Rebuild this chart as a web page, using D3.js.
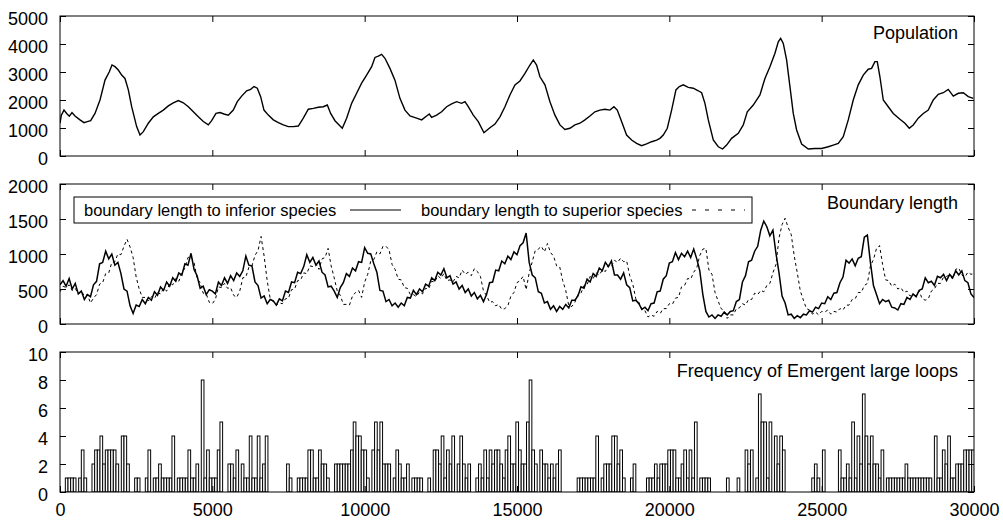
<!DOCTYPE html>
<html>
<head>
<meta charset="utf-8">
<script src="https://cdn.jsdelivr.net/npm/d3@7"></script>
<style>
  body { margin: 0; background: #fff; }
  svg text { font-family: "Liberation Sans", Arial, Helvetica, sans-serif; fill: #000; }
</style>
</head>
<body>
<div id="chart"></div>
<script>

// population as [time, population]
var population = [[0,1170],[44,1460],[131,1640],[219,1520],[306,1420],[394,1550],[492,1430],[656,1290],[788,1190],[897,1230],
  [1006,1260],[1149,1520],[1313,2000],[1477,2710],[1619,3010],[1707,3250],[1805,3190],[1914,3070],[2024,2890],[2133,2770],
  [2243,2360],[2352,1760],[2516,1050],[2626,750],[2735,870],[2899,1170],[3063,1400],[3227,1520],[3391,1640],[3555,1790],
  [3719,1900],[3883,1980],[4048,1900],[4212,1760],[4376,1580],[4540,1400],[4704,1230],[4868,1110],[4978,1260],[5120,1520],
  [5251,1550],[5382,1500],[5524,1460],[5688,1640],[5820,1940],[5962,2140],[6126,2330],[6257,2380],[6367,2480],[6476,2420],
  [6586,2120],[6695,1640],[6838,1460],[7002,1290],[7166,1190],[7330,1110],[7494,1050],[7658,1050],[7822,1070],[7986,1350],
  [8150,1670],[8315,1700],[8479,1740],[8643,1760],[8774,1820],[8883,1520],[9025,1260],[9266,990],[9408,1345],[9572,1880],
  [9736,2240],[9900,2600],[10064,2890],[10229,3190],[10338,3520],[10447,3570],[10557,3630],[10666,3490],[10830,3130],[10994,2710],
  [11158,2060],[11323,1640],[11487,1430],[11705,1350],[11870,1290],[12034,1430],[12121,1500],[12198,1380],[12362,1460],[12526,1580],
  [12690,1760],[12854,1860],[13018,1940],[13182,1880],[13292,1940],[13401,1760],[13565,1460],[13729,1230],[13915,830],[14090,990],
  [14276,1140],[14440,1400],[14604,1760],[14768,2180],[14933,2540],[15097,2680],[15261,2950],[15425,3250],[15534,3430],[15643,3250],
  [15753,2830],[15917,2540],[16081,1940],[16245,1460],[16409,1110],[16573,950],[16737,990],[16901,1110],[17065,1170],[17230,1290],
  [17394,1430],[17558,1580],[17722,1640],[17886,1670],[18050,1640],[18182,1760],[18291,1640],[18433,1230],[18597,750],[18762,570],
  [18926,450],[19090,370],[19254,430],[19418,510],[19582,570],[19692,630],[19801,750],[19933,990],[20075,1640],[20217,2360],
  [20327,2480],[20458,2540],[20622,2450],[20786,2420],[20950,2330],[21060,2260],[21169,1880],[21279,1290],[21443,570],[21607,330],
  [21749,250],[21880,390],[22044,630],[22263,810],[22427,1110],[22559,1580],[22755,1820],[22974,2180],[23138,2770],[23302,3190],
  [23467,3670],[23576,4080],[23653,4200],[23740,4020],[23849,3430],[23959,2480],[24068,1520],[24178,930],[24342,430],[24560,250],
  [24779,270],[24998,270],[25217,330],[25381,390],[25545,450],[25709,690],[25873,1290],[26037,2000],[26201,2540],[26365,2890],
  [26529,3100],[26638,3130],[26748,3370],[26825,3370],[26912,2830],[27022,2000],[27186,1760],[27350,1520],[27569,1310],[27733,1170],
  [27875,990],[28006,1110],[28170,1350],[28335,1520],[28499,1640],[28663,2000],[28827,2200],[28991,2260],[29155,2380],[29320,2140],
  [29484,2240],[29648,2260],[29812,2120],[29976,2060]];

// boundary lengths, one value every 100 time steps
var boundaryStep = 100;
var inferior = [
  560,620,540,650,500,580,430,470,350,420,
  390,560,610,860,880,1040,930,1000,840,880,
  720,500,470,260,150,270,250,350,290,380,
  340,460,410,530,480,600,540,660,610,730,
  700,860,840,1010,780,690,510,540,420,490,
  470,430,600,550,660,580,690,620,730,680,
  760,970,840,830,600,550,370,400,290,350,
  330,270,360,330,470,450,600,590,740,720,
  820,990,880,950,840,900,740,700,530,540,
  470,380,520,590,720,680,800,760,890,880,
  1090,1010,1000,860,740,480,470,320,350,260,
  300,240,300,260,380,370,480,420,500,460,
  570,540,660,620,740,700,790,660,690,570,
  600,500,550,450,500,400,450,360,410,320,
  420,590,600,770,760,900,860,970,920,1030,
  990,1120,1160,1300,880,700,660,460,440,300,
  320,210,260,180,250,210,280,230,340,340,
  400,530,510,640,600,720,680,800,760,880,
  820,900,700,700,640,730,560,520,330,340,
  290,210,240,190,290,300,460,470,640,690,
  870,890,1020,920,1010,960,1040,950,1070,930,
  760,420,180,100,130,80,130,110,170,130,
  180,190,320,350,600,690,890,910,1040,1110,
  1340,1470,1390,1260,1340,1010,730,400,300,130,
  140,80,120,90,140,130,190,170,240,220,
  300,290,390,350,440,450,590,670,910,870,
  930,830,940,960,1240,1270,880,550,420,290,
  350,320,340,240,230,200,290,280,380,350,
  430,390,480,500,660,590,610,550,680,660,
  710,620,710,660,760,700,760,620,590,430,
  380];

var superior = [
  460,540,520,560,480,510,430,470,400,420,
  300,370,420,570,590,720,730,880,890,1000,
  990,1110,1210,1100,950,670,500,380,380,330,
  390,360,450,430,510,470,580,560,650,610,
  730,800,950,960,880,650,590,440,430,310,
  290,350,530,520,580,510,520,410,380,470,
  660,670,810,830,980,1050,1250,970,620,360,
  320,270,300,290,360,370,490,500,620,630,
  730,720,830,820,860,780,930,950,1080,830,
  660,470,410,280,280,270,400,450,480,380,
  600,710,900,920,1030,1000,1110,1110,1060,850,
  780,640,630,520,510,420,420,390,460,430,
  510,500,610,600,690,650,720,620,630,600,
  680,660,770,710,740,690,790,750,680,470,
  410,310,320,260,280,210,220,260,400,450,
  590,620,680,490,730,890,1050,1070,1110,1030,
  1150,1020,970,830,820,620,480,260,250,310,
  420,440,550,560,680,650,730,700,770,750,
  840,820,910,880,940,890,900,690,570,360,
  310,200,190,100,130,110,180,150,220,220,
  290,280,370,380,530,550,650,640,740,800,
  980,1070,1080,770,710,450,330,220,190,80,
  130,130,220,230,290,270,350,350,440,420,
  480,460,550,580,730,850,1230,1420,1510,1380,
  1280,970,730,470,340,220,200,140,170,130,
  180,170,200,140,180,170,220,200,270,270,
  350,360,450,450,550,580,830,920,1080,1120,
  850,630,620,540,570,500,520,450,470,400,
  420,400,470,360,340,360,470,500,580,580,
  670,680,700,640,780,800,700,670,740,710,
  720];

// emergent large loops, counts per bin
var loopBinWidth = 87.5;
var loops = [
  0,0,1,1,1,1,0,1,3,1,
  0,0,2,3,3,4,2,3,3,3,
  3,2,0,4,4,2,0,0,1,1,
  0,0,1,3,0,1,1,2,1,1,
  1,1,4,0,1,1,1,1,3,1,
  1,2,0,8,1,3,1,1,1,3,
  5,0,0,2,2,1,3,0,2,1,
  1,4,1,1,4,1,2,4,0,0,
  0,0,0,0,0,2,1,0,0,1,
  1,1,1,3,3,1,1,3,2,2,
  1,0,0,2,2,2,2,2,2,3,
  5,4,4,3,3,1,0,3,5,3,
  5,2,2,2,0,1,3,2,1,1,
  2,0,1,1,1,1,0,0,1,0,
  3,3,2,4,1,3,2,4,0,2,
  4,2,1,2,0,0,1,2,1,3,
  1,3,2,3,3,2,1,3,4,2,
  2,5,3,2,2,5,8,3,2,0,
  3,2,2,1,2,1,2,3,0,0,
  0,0,0,0,1,1,1,1,1,1,
  1,4,0,1,2,2,2,4,4,2,
  3,1,0,0,1,2,0,0,0,0,
  1,1,1,2,1,2,2,2,3,3,
  3,1,1,2,3,1,3,1,5,0,
  1,1,1,1,0,0,0,0,0,0,
  1,0,0,0,1,0,0,3,2,3,
  0,1,7,5,5,1,5,0,4,2,
  4,3,0,0,0,0,0,0,0,0,
  0,0,1,2,1,0,3,0,0,0,
  0,0,3,1,1,2,1,5,1,4,
  2,7,4,2,4,2,2,1,3,0,
  1,1,1,1,1,1,1,2,1,1,
  1,1,1,1,1,1,1,0,4,1,
  1,3,2,4,1,1,2,2,2,3,
  3,3,3];

var xTicks = [0, 5000, 10000, 15000, 20000, 25000, 30000];
var popTicks = [0, 1000, 2000, 3000, 4000, 5000];
var boundTicks = [0, 500, 1000, 1500, 2000];
var loopTicks = [0, 2, 4, 6, 8, 10];

var width = 1003, height = 522;
var left = 60, right = 974;
var tickLen = 6;

var svg = d3.select("#chart")
  .append("svg")
    .attr("width", width)
    .attr("height", height);

svg.append("rect")
  .attr("width", width)
  .attr("height", height)
  .attr("fill", "#fff");

var x = d3.scaleLinear().domain([0, 30000]).range([left, right]);

function drawPanel(top, bottom, yMax, yTicks, title, titleY, showX) {
  var y = d3.scaleLinear().domain([0, yMax]).range([bottom, top]);
  var g = svg.append("g");

  var id = "clip" + top;
  svg.append("clipPath").attr("id", id)
    .append("rect")
      .attr("x", left).attr("y", top)
      .attr("width", right - left).attr("height", bottom - top);

  var body = g.append("g").attr("clip-path", "url(#" + id + ")");

  // axes, ticks pointing inwards on all four sides
  g.append("g")
    .attr("transform", "translate(0," + bottom + ")")
    .call(d3.axisBottom(x).tickValues(xTicks).tickSize(-tickLen).tickPadding(11)
      .tickFormat(showX ? d3.format("d") : function() { return ""; }));
  g.append("g")
    .attr("transform", "translate(0," + top + ")")
    .call(d3.axisTop(x).tickValues(xTicks).tickSize(-tickLen).tickFormat(function() { return ""; }));
  var lAxis = g.append("g")
    .attr("transform", "translate(" + left + ",0)")
    .call(d3.axisLeft(y).tickValues(yTicks).tickSize(-tickLen).tickPadding(12).tickFormat(d3.format("d")));
  g.append("g")
    .attr("transform", "translate(" + right + ",0)")
    .call(d3.axisRight(y).tickValues(yTicks).tickSize(-tickLen).tickFormat(function() { return ""; }));

  g.selectAll(".domain").remove();
  g.selectAll(".tick line").attr("stroke", "#000").attr("stroke-width", 1);
  g.selectAll(".tick text")
    .style("font-size", "18px")
    .style("font-family", "'Liberation Sans', Arial, sans-serif")
    .attr("fill", "#000");
  lAxis.selectAll(".tick text").attr("dy", "0.45em");

  g.append("rect")
    .attr("x", left).attr("y", top)
    .attr("width", right - left).attr("height", bottom - top)
    .attr("fill", "none")
    .attr("stroke", "#000")
    .attr("stroke-width", 1);

  g.append("text")
    .attr("x", 958)
    .attr("y", titleY)
    .attr("text-anchor", "end")
    .style("font-size", "18px")
    .text(title);

  return {y: y, body: body, g: g};
}

// ---- Population ----
var p1 = drawPanel(16, 156, 5000, popTicks, "Population", 39, false);
p1.body.append("path")
  .datum(population)
  .attr("d", d3.line().x(function(d) { return x(d[0]); }).y(function(d) { return p1.y(d[1]); }))
  .attr("fill", "none")
  .attr("stroke", "#000")
  .attr("stroke-width", 1.4);

// ---- Boundary length ----
var p2 = drawPanel(184, 324, 2000, boundTicks, "Boundary length", 209, false);
var bline = d3.line()
  .x(function(d, i) { return x(i * boundaryStep); })
  .y(function(d) { return p2.y(d); });

p2.body.append("path")
  .datum(superior)
  .attr("d", bline)
  .attr("fill", "none")
  .attr("stroke", "#000")
  .attr("stroke-width", 1)
  .attr("stroke-dasharray", "3,3");

p2.body.append("path")
  .datum(inferior)
  .attr("d", bline)
  .attr("fill", "none")
  .attr("stroke", "#000")
  .attr("stroke-width", 1.5);

// legend box
var leg = p2.g.append("g");
leg.append("rect")
  .attr("x", 74).attr("y", 197)
  .attr("width", 678).attr("height", 26)
  .attr("fill", "#fff")
  .attr("stroke", "#000")
  .attr("stroke-width", 1);
leg.append("text")
  .attr("x", 84).attr("y", 216)
  .style("font-size", "16.5px")
  .text("boundary length to inferior species");
leg.append("line")
  .attr("x1", 350).attr("x2", 401).attr("y1", 210).attr("y2", 210)
  .attr("stroke", "#000").attr("stroke-width", 1);
leg.append("text")
  .attr("x", 421).attr("y", 216)
  .style("font-size", "16.5px")
  .text("boundary length to superior species");
leg.append("line")
  .attr("x1", 692).attr("x2", 745).attr("y1", 210).attr("y2", 210)
  .attr("stroke", "#000").attr("stroke-width", 1)
  .attr("stroke-dasharray", "4,9");

// ---- Frequency of emergent large loops ----
var p3 = drawPanel(352, 492, 10, loopTicks, "Frequency of Emergent large loops", 377, true);
p3.body.selectAll("rect.bar")
  .data(loops.map(function(v, i) { return {i: i, v: v}; }).filter(function(d) { return d.v > 0; }))
  .enter().append("rect")
    .attr("class", "bar")
    .attr("x", function(d) { return x(d.i * loopBinWidth); })
    .attr("y", function(d) { return p3.y(d.v); })
    .attr("width", function(d) { return x((d.i + 1) * loopBinWidth) - x(d.i * loopBinWidth); })
    .attr("height", function(d) { return p3.y(0) - p3.y(d.v); })
    .attr("fill", "#fff")
    .attr("stroke", "#000")
    .attr("stroke-width", 1);

</script>
</body>
</html>
